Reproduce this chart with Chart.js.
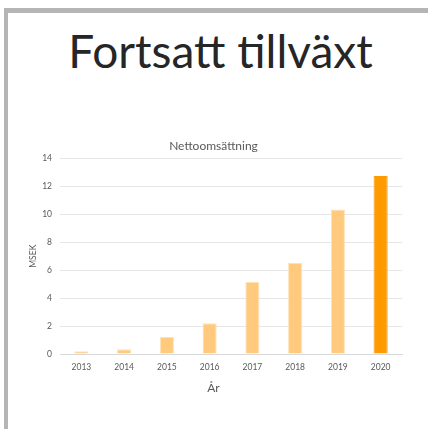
<!DOCTYPE html>
<html>
<head>
<meta charset="utf-8">
<script src="https://cdn.jsdelivr.net/npm/chart.js@4/dist/chart.umd.min.js"></script>
<style>
  html, body { margin: 0; padding: 0; background: #fff; }
  body { width: 428px; height: 429px; position: relative; overflow: hidden; }
  #frameTop { position: absolute; left: 4px; top: 8px; width: 424px; height: 5px; background: #b5b5b5; }
  #frameLeft { position: absolute; left: 4px; top: 8px; width: 4px; height: 421px; background: #b5b5b5; }
  h1 { position: absolute; left: 0; width: 441px; top: 23px; margin: 0; text-align: center;
       font-family: Lato, sans-serif; font-weight: normal; font-size: 46px; color: #262626; }
  #wrap { position: absolute; left: 0; top: 0; width: 428px; height: 429px; }
</style>
</head>
<body>
<div id="frameTop"></div>
<div id="frameLeft"></div>
<h1>Fortsatt tillväxt</h1>
<div id="wrap"><canvas id="canvas"></canvas></div>
<script>
var years = ["2013", "2014", "2015", "2016", "2017", "2018", "2019", "2020"];
var sales = [0.2, 0.34, 1.23, 2.2, 5.17, 6.54, 10.34, 12.74];
var yTicks = [0, 2, 4, 6, 8, 10, 12, 14];

var fills = years.map(function(y) { return y === "2020" ? "#ff9a00" : "#ffca7e"; });
var edges = years.map(function(y) { return y === "2020" ? "#ff9a00" : "#ffe2b8"; });

var ctx = document.getElementById("canvas").getContext("2d");
var chart = new Chart(ctx, {
  type: "bar",
  data: {
    labels: years,
    datasets: [{
      label: "Nettoomsättning",
      data: sales,
      backgroundColor: fills,
      borderColor: edges,
      borderWidth: 1,
      categoryPercentage: 1,
      barPercentage: 0.33
    }]
  },
  options: {
    responsive: true,
    maintainAspectRatio: false,
    animation: false,
    layout: { padding: { left: 25, right: 26, top: 0, bottom: 34 } },
    plugins: {
      legend: { display: false },
      tooltip: { enabled: false },
      title: {
        display: true,
        text: "Nettoomsättning",
        color: "#595959",
        font: { family: "Lato", size: 12, weight: "normal" },
        padding: { top: 139, bottom: 5 }
      },
      // x axis title, centred on the whole chart like the original
      subtitle: {
        display: true,
        position: "bottom",
        text: "År",
        color: "#595959",
        font: { family: "Lato", size: 12, weight: "normal" },
        padding: { top: 4.5, bottom: 0 }
      }
    },
    scales: {
      x: {
        grid: { display: false, drawTicks: false },
        border: { color: "#d9d9d9" },
        ticks: { color: "#595959", font: { family: "Lato", size: 8.5 }, padding: 8, maxRotation: 0 },
        afterFit: function(s) { s.height = 22; }
      },
      y: {
        min: 0,
        max: 14,
        afterBuildTicks: function(s) { s.ticks = yTicks.map(function(v) { return { value: v }; }); },
        grid: { color: "#e6e6e6", drawTicks: false },
        border: { display: false },
        ticks: { color: "#595959", font: { family: "Lato", size: 8.5 }, padding: 8 },
        title: { display: true, text: "MSEK", color: "#595959", font: { family: "Lato", size: 8.5 }, padding: { top: 3, bottom: 0 } },
        afterFit: function(s) { s.width = 35; }
      }
    }
  }
});
</script>
</body>
</html>
